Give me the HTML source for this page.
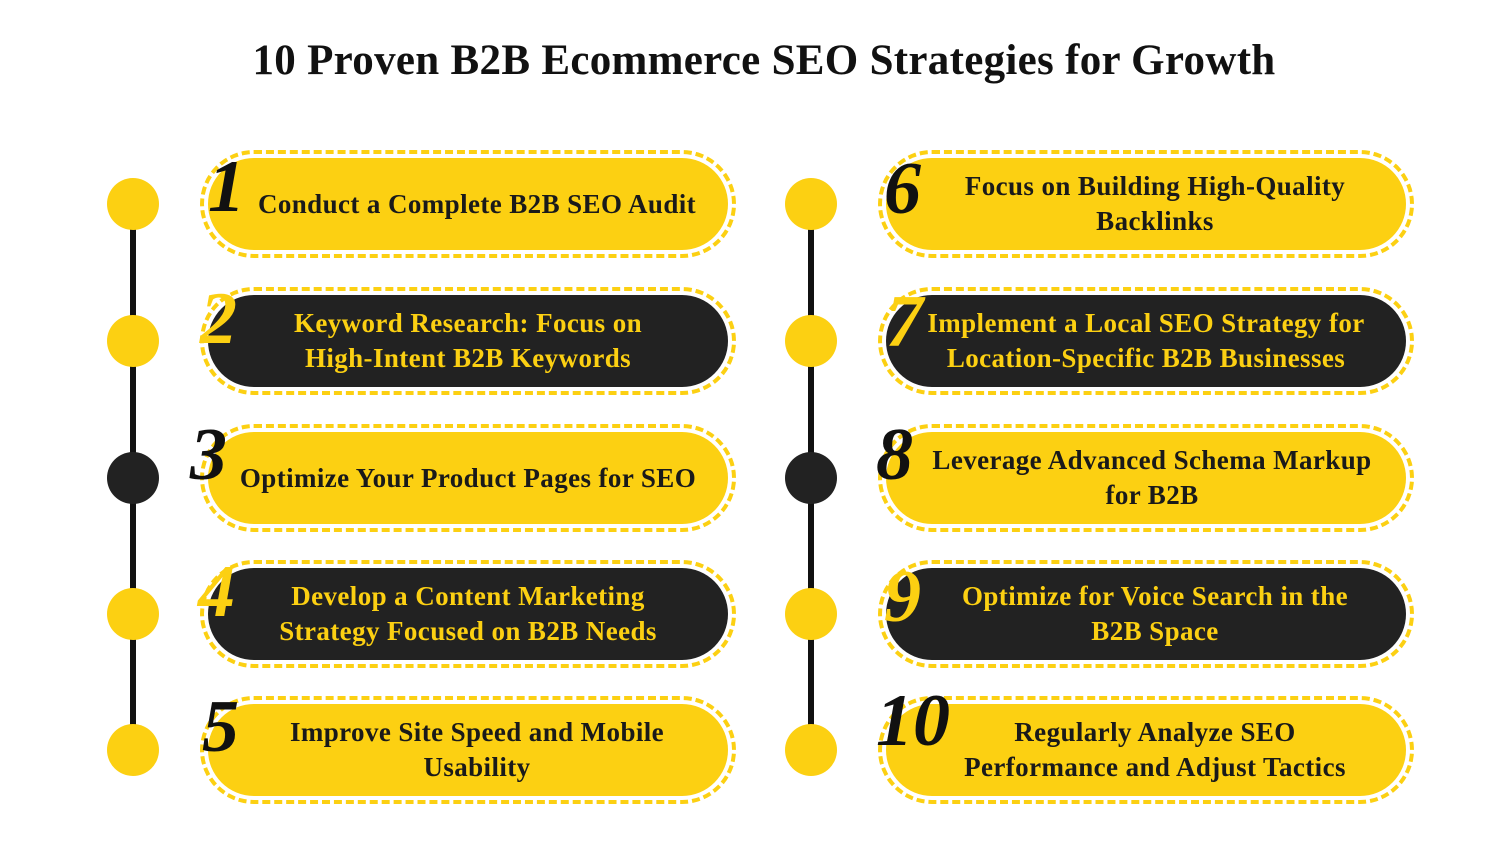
<!DOCTYPE html>
<html><head><style>
body{margin:0;width:1500px;height:844px;background:#fff;position:relative;overflow:hidden;font-family:"Liberation Serif",serif}
.t{position:absolute;top:36px;left:14px;width:1500px;text-align:center;font-size:43px;letter-spacing:0.3px;font-weight:bold;color:#111}
.line{position:absolute;width:6px;background:#111;top:204px;height:546px}
.c{position:absolute;width:52px;height:52px;border-radius:50%;background:#FCD012}
.c.d{background:#222}
.o{position:absolute;width:536px;height:108px;border:4px dashed #FCD012;border-radius:56px;box-sizing:border-box}
.p{position:absolute;width:520px;height:92px;border-radius:46px;background:#FCD012;display:flex;align-items:center;justify-content:center;text-align:center;font-weight:bold;font-size:27px;letter-spacing:0.4px;line-height:35px;color:#1a1a1a;box-sizing:border-box;padding:0 12px}
.p.d{background:#222;color:#FCD012}
.n{position:absolute;font-size:74px;font-weight:bold;font-style:italic;line-height:1}
</style></head><body>
<div class="t">10 Proven B2B Ecommerce SEO Strategies for Growth</div>
<div class="line" style="left:130px"></div>
<div class="line" style="left:808px"></div>

<div class="c" style="left:107px;top:178px"></div>
<div class="c" style="left:107px;top:315px"></div>
<div class="c d" style="left:107px;top:452px"></div>
<div class="c" style="left:107px;top:588px"></div>
<div class="c" style="left:107px;top:724px"></div>
<div class="c" style="left:785px;top:178px"></div>
<div class="c" style="left:785px;top:315px"></div>
<div class="c d" style="left:785px;top:452px"></div>
<div class="c" style="left:785px;top:588px"></div>
<div class="c" style="left:785px;top:724px"></div>

<div class="o" style="left:200px;top:150px"></div>
<div class="p" style="left:208px;top:158px;padding-left:30px">Conduct a Complete B2B SEO Audit</div>
<div class="o" style="left:200px;top:287px"></div>
<div class="p d" style="left:208px;top:295px">Keyword Research: Focus on<br>High-Intent B2B Keywords</div>
<div class="o" style="left:200px;top:424px"></div>
<div class="p" style="left:208px;top:432px;padding-left:12px">Optimize Your Product Pages for SEO</div>
<div class="o" style="left:200px;top:560px"></div>
<div class="p d" style="left:208px;top:568px">Develop a Content Marketing<br>Strategy Focused on B2B Needs</div>
<div class="o" style="left:200px;top:696px"></div>
<div class="p" style="left:208px;top:704px;padding-left:30px">Improve Site Speed and Mobile<br>Usability</div>

<div class="o" style="left:878px;top:150px"></div>
<div class="p" style="left:886px;top:158px;padding-left:30px">Focus on Building High-Quality<br>Backlinks</div>
<div class="o" style="left:878px;top:287px"></div>
<div class="p d" style="left:886px;top:295px;padding-left:12px">Implement a Local SEO Strategy for<br>Location-Specific B2B Businesses</div>
<div class="o" style="left:878px;top:424px"></div>
<div class="p" style="left:886px;top:432px;padding-left:24px">Leverage Advanced Schema Markup<br>for B2B</div>
<div class="o" style="left:878px;top:560px"></div>
<div class="p d" style="left:886px;top:568px;padding-left:30px">Optimize for Voice Search in the<br>B2B Space</div>
<div class="o" style="left:878px;top:696px"></div>
<div class="p" style="left:886px;top:704px;padding-left:30px">Regularly Analyze SEO<br>Performance and Adjust Tactics</div>

<div class="n" style="left:208px;top:150px;color:#111">1</div>
<div class="n" style="left:200px;top:282px;color:#FCD012">2</div>
<div class="n" style="left:190px;top:418px;color:#111">3</div>
<div class="n" style="left:198px;top:555px;color:#FCD012">4</div>
<div class="n" style="left:202px;top:690px;color:#111">5</div>
<div class="n" style="left:884px;top:152px;color:#111">6</div>
<div class="n" style="left:886px;top:285px;color:#FCD012">7</div>
<div class="n" style="left:876px;top:418px;color:#111">8</div>
<div class="n" style="left:884px;top:560px;color:#FCD012">9</div>
<div class="n" style="left:876px;top:684px;color:#111">10</div>
</body></html>
